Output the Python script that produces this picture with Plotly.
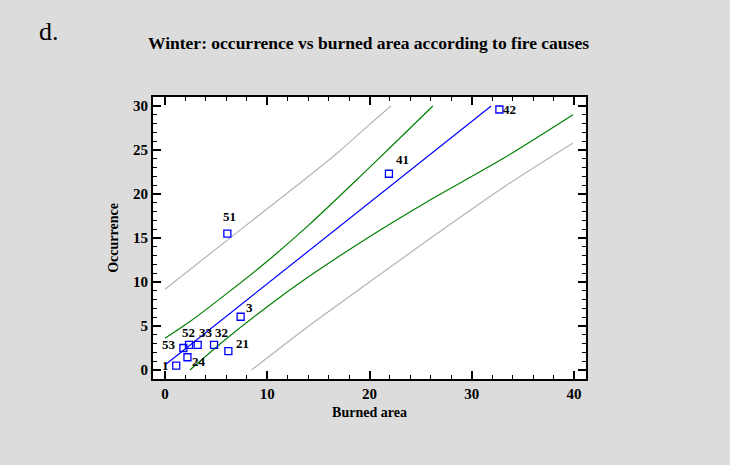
import plotly.graph_objects as go

# ---- data ----
cause_labels = ["1", "24", "53", "52", "33", "32", "21", "3", "51", "41", "42"]
burned_area = [1.1, 2.2, 1.8, 2.35, 3.2, 4.8, 6.2, 7.4, 6.1, 21.9, 32.7]
occurrence = [0.5, 1.45, 2.5, 2.85, 2.85, 2.85, 2.15, 6.05, 15.5, 22.3, 29.6]

fit_x = [0.0, 16.8, 31.9]
fit_y = [0.57, 16.06, 30.0]

conf_upper_x = [0.0, 2.44, 6.0, 9.94, 14.0, 19.1, 22.3, 26.2]
conf_upper_y = [3.6, 5.5, 8.65, 12.3, 16.4, 22.0, 25.6, 30.0]
conf_lower_x = [2.44, 6.0, 10.0, 14.0, 20.0, 25.6, 33.1, 39.9]
conf_lower_y = [0.0, 3.55, 7.2, 10.56, 15.15, 19.1, 24.05, 29.0]

pred_upper_x = [0.0, 6.68, 12.5, 16.8, 19.9, 22.1]
pred_upper_y = [9.17, 15.3, 20.6, 24.6, 27.8, 30.0]
pred_lower_x = [8.47, 14.0, 20.0, 26.6, 33.4, 39.9]
pred_lower_y = [0.0, 4.95, 10.0, 15.5, 21.0, 25.8]

# label offsets in pixels (style only): (right, up)
label_offsets = [(-11, 0), (12, -4), (-14, 4), (-1, 12), (8, 12), (7, 12),
                 (14, 8), (9, 9), (2, 17), (14, 14), (10, 0)]

SERIF = "Liberation Serif, Times New Roman, serif"

fig = go.Figure()

for xs, ys in [(pred_upper_x, pred_upper_y), (pred_lower_x, pred_lower_y)]:
    fig.add_trace(go.Scatter(x=xs, y=ys, mode="lines",
                             line=dict(color="#b4b4b4", width=1.2, shape="spline", smoothing=0.8),
                             hoverinfo="skip", showlegend=False))
for xs, ys in [(conf_upper_x, conf_upper_y), (conf_lower_x, conf_lower_y)]:
    fig.add_trace(go.Scatter(x=xs, y=ys, mode="lines",
                             line=dict(color="#008000", width=1.2, shape="spline", smoothing=0.8),
                             hoverinfo="skip", showlegend=False))
fig.add_trace(go.Scatter(x=fit_x, y=fit_y, mode="lines",
                         line=dict(color="#0000ff", width=1.2),
                         hoverinfo="skip", showlegend=False))

fig.add_trace(go.Scatter(
    x=burned_area, y=occurrence, mode="markers",
    marker=dict(symbol="square-open", size=7, color="#0000ff",
                line=dict(width=1.3, color="#0000ff")),
    showlegend=False, cliponaxis=False))

annotations = []
for lab, bx, oy, (dx, dy) in zip(cause_labels, burned_area, occurrence, label_offsets):
    annotations.append(dict(text="<b>" + lab + "</b>", x=bx, y=oy, xref="x", yref="y",
                            xshift=dx, yshift=dy, showarrow=False,
                            xanchor="center", yanchor="middle",
                            font=dict(family=SERIF, size=13, color="black")))

annotations.append(dict(text="d.", xref="paper", yref="paper",
                        x=-116 / 433, xanchor="left",
                        y=1 + (97 - 32) / 282, yanchor="middle",
                        showarrow=False,
                        font=dict(family=SERIF, size=26, color="black")))

axis_common = dict(
    showline=True, linecolor="black", linewidth=2, mirror="ticks",
    ticks="inside", ticklen=8, tickwidth=1.5, tickcolor="black",
    showgrid=False, zeroline=False,
    tickfont=dict(family=SERIF, size=15, color="black", weight="bold"),
)

fig.update_xaxes(range=[-1.17, 41.17], tickvals=[0, 10, 20, 30, 40],
                 minor=dict(ticks="inside", ticklen=4, tickwidth=1.2,
                            tickcolor="black", dtick=2, tick0=0, showgrid=False),
                 title=dict(text="<b>Burned area</b>", standoff=6,
                            font=dict(family=SERIF, size=14, color="black")),
                 **axis_common)
fig.update_yaxes(range=[-1.02, 31.02], tickvals=[0, 5, 10, 15, 20, 25, 30],
                 minor=dict(ticks="inside", ticklen=4, tickwidth=1.2,
                            tickcolor="black", dtick=1, tick0=0, showgrid=False),
                 title=dict(text="<b>Occurrence</b>", standoff=11,
                            font=dict(family=SERIF, size=14, color="black")),
                 **axis_common)

fig.update_layout(
    width=730, height=465,
    margin=dict(l=153, r=144, t=97, b=86),
    paper_bgcolor="#dcdcdc", plot_bgcolor="white",
    title=dict(text="<b>Winter: occurrence vs burned area according to fire causes</b>",
               x=368.5 / 730, xanchor="center", xref="container",
               y=1 - 43 / 465, yanchor="middle", yref="container",
               font=dict(family=SERIF, size=17.5, color="black")),
    annotations=annotations,
)

fig.write_html("out.html", config={"displayModeBar": False},
               post_script="document.body.style.margin='0';document.body.style.overflow='hidden';")
